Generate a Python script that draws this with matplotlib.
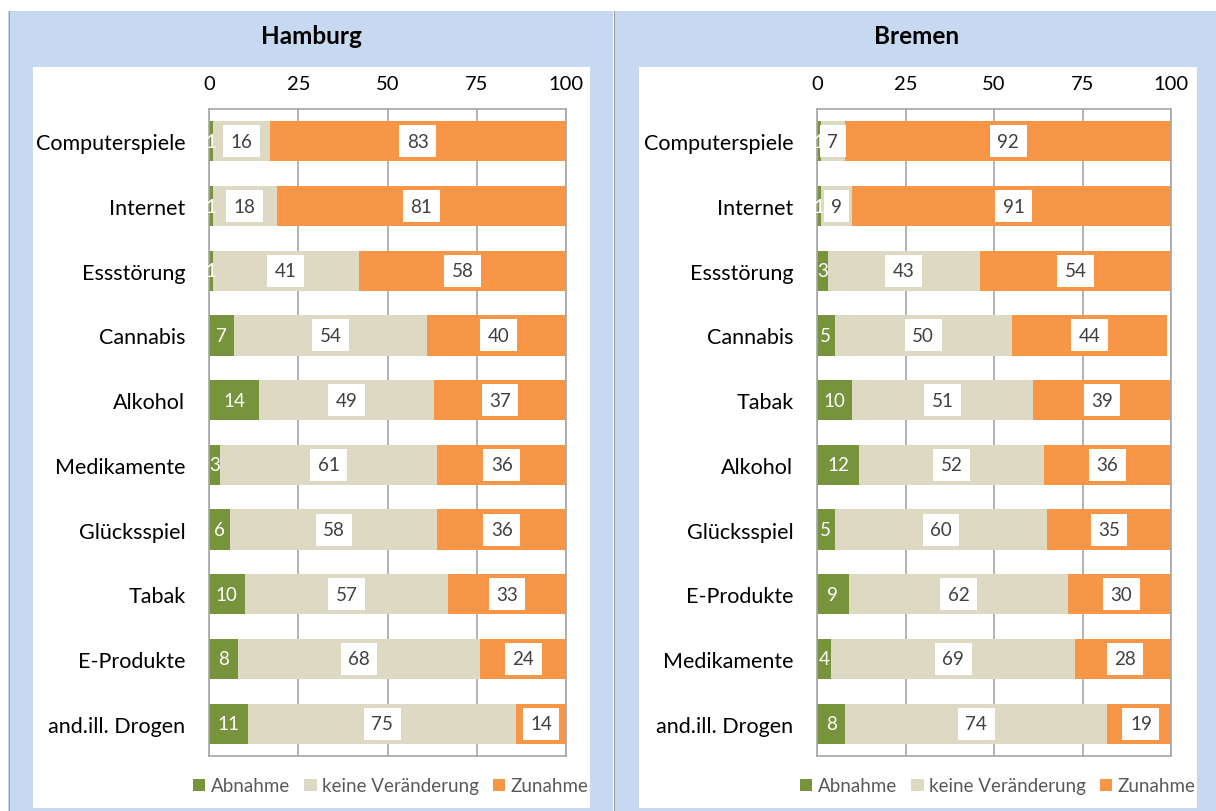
import matplotlib.pyplot as plt
from matplotlib.patches import Rectangle
from matplotlib.lines import Line2D

plt.rcParams['font.family'] = ['Lato', 'DejaVu Sans']

hh_cats = ["Computerspiele", "Internet", "Essstörung", "Cannabis", "Alkohol",
           "Medikamente", "Glücksspiel", "Tabak", "E-Produkte", "and.ill. Drogen"]
hh_ab = [1, 1, 1, 7, 14, 3, 6, 10, 8, 11]
hh_kv = [16, 18, 41, 54, 49, 61, 58, 57, 68, 75]
hh_zu = [83, 81, 58, 40, 37, 36, 36, 33, 24, 14]

hb_cats = ["Computerspiele", "Internet", "Essstörung", "Cannabis", "Tabak",
           "Alkohol", "Glücksspiel", "E-Produkte", "Medikamente", "and.ill. Drogen"]
hb_ab = [1, 1, 3, 5, 10, 12, 5, 9, 4, 8]
hb_kv = [7, 9, 43, 50, 51, 52, 60, 62, 69, 74]
hb_zu = [92, 91, 54, 44, 39, 36, 35, 30, 28, 19]

series = ["Abnahme", "keine Veränderung", "Zunahme"]
colors = ["#77933C", "#DDD9C3", "#F79646"]
BLUE = "#C6D9F1"

W, H = 1216, 812
fig = plt.figure(figsize=(W / 100, H / 100), dpi=100)


def rect(x0, y0, x1, y1, color):
  # pixel coords, y from top
  fig.patches.append(Rectangle((x0 / W, 1 - y1 / H), (x1 - x0) / W, (y1 - y0) / H,
                               transform=fig.transFigure, facecolor=color,
                               edgecolor='none', zorder=-5))


# panels
rect(8, 12, 613, 812, BLUE)
rect(614, 12, 1216, 812, BLUE)
rect(33, 68, 590, 809, "white")
rect(639, 68, 1197, 809, "white")
for xp in [8.5, 613.5]:
  fig.lines.append(Line2D([xp / W, xp / W], [0, 1 - 12 / H], transform=fig.transFigure,
                          color="#A0A0A0", lw=0.8, zorder=-4))


def panel(x0, x1, title, cats, ab, kv, zu, cx, lx):
  ax = fig.add_axes([x0 / W, 1 - 757 / H, (x1 - x0) / W, (757 - 110) / H])
  ax.set_zorder(2)
  y = list(range(len(cats)))
  left = [0] * len(cats)
  for vals, col, name in zip([ab, kv, zu], colors, series):
    bars = ax.barh(y, vals, left=left, height=0.62, color=col, label=name, zorder=2)
    for b, v in zip(bars, vals):
      xc = b.get_x() + b.get_width() / 2
      yc = b.get_y() + b.get_height() / 2
      if col == colors[0]:
        ax.text(xc, yc, str(v), ha='center', va='center', color='white',
                fontsize=13.5, zorder=4)
      else:
        ax.text(xc, yc, str(v), ha='center', va='center', color='#404040',
                fontsize=13.5, zorder=4,
                bbox=dict(boxstyle='square,pad=0.4', fc='white', ec='none'))
    left = [l + v for l, v in zip(left, vals)]

  ax.set_xlim(0, 100)
  ax.set_ylim(len(cats) - 0.5, -0.5)
  ax.set_xticks([0, 25, 50, 75, 100])
  ax.set_yticks(y)
  ax.set_yticklabels(cats)
  ax.xaxis.tick_top()
  ax.tick_params(axis='x', length=0, pad=12, labelsize=14.5)
  ax.tick_params(axis='y', length=0, pad=17, labelsize=15.5)
  ax.grid(axis='x', color='#A6A6A6', lw=1.2, zorder=1)
  ax.set_axisbelow(True)
  for s in ax.spines.values():
    s.set_color('#A6A6A6')
    s.set_linewidth(1.2)

  fig.text(cx / W, 1 - 37 / H, title, ha='center', va='center',
           fontsize=17.5, fontweight='bold')
  handles, labels = ax.get_legend_handles_labels()
  fig.legend(handles, labels, loc='center', bbox_to_anchor=(lx / W, 1 - 787 / H),
             ncol=3, frameon=False, fontsize=13.5, handlelength=0.65, handleheight=0.65,
             handletextpad=0.3, columnspacing=0.75, labelcolor='#595959')


panel(209, 566, "Hamburg", hh_cats, hh_ab, hh_kv, hh_zu, 311, 391)
panel(817, 1171, "Bremen", hb_cats, hb_ab, hb_kv, hb_zu, 917, 998)

fig.savefig("out.png", dpi=100)
